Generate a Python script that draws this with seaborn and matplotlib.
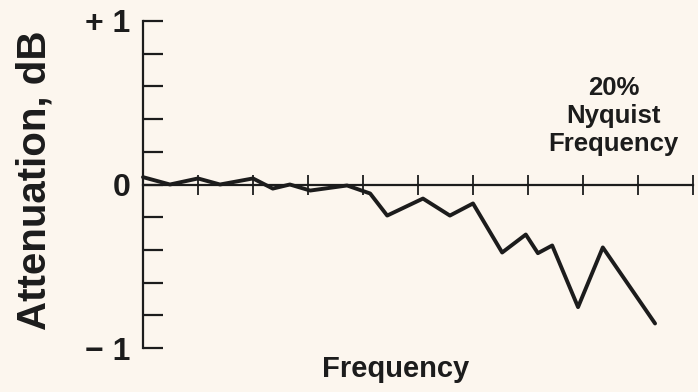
import matplotlib
matplotlib.use("Agg")
import matplotlib.pyplot as plt
import numpy as np
import seaborn as sns

# frequency in tick units (10 ticks up to 20% Nyquist), attenuation in dB
freq = [0.0, 0.49, 1.0, 1.4, 2.0, 2.36, 2.67, 3.04, 3.71, 4.13, 4.44, 5.09,
        5.58, 6.0, 6.53, 6.96, 7.18, 7.44, 7.91, 8.36, 9.31]
atten = [0.045, 0.0, 0.037, 0.0, 0.037, -0.025, 0.0, -0.037, -0.006, -0.055,
         -0.19, -0.086, -0.19, -0.116, -0.416, -0.306, -0.42, -0.373, -0.75,
         -0.385, -0.85]

xticks = [1, 2, 3, 4, 5, 6, 7, 8, 9, 10]
yticks = [-1.0, -0.8, -0.6, -0.4, -0.2, 0.0, 0.2, 0.4, 0.6, 0.8, 1.0]
ytick_labels = ['\u2212 1', '', '', '', '', '0', '', '', '', '', '+ 1']

bg = '#fcf6ee'
ink = '#1c1c1c'

sns.set_style("white")
plt.rcParams['font.family'] = ['Liberation Sans', 'DejaVu Sans']

fig = plt.figure(figsize=(6.98, 3.92), dpi=100, facecolor=bg)
ax = fig.add_axes([143 / 698, 1 - 348 / 392, 550 / 698, 327 / 392])
ax.set_facecolor(bg)

sns.lineplot(x=freq, y=atten, ax=ax, color=ink, linewidth=2.8, clip_on=False)

ax.set_xlim(0, 10)
ax.set_ylim(-1, 1)

for s in ['top', 'right']:
    ax.spines[s].set_visible(False)
ax.spines['bottom'].set_position(('data', 0))
for s in ['left', 'bottom']:
    ax.spines[s].set_color(ink)
    ax.spines[s].set_linewidth(1.6)

ax.set_xticks(xticks)
ax.set_xticklabels([])
ax.tick_params(axis='x', bottom=True, direction='inout', length=15, width=1.3,
               color=ink)

ax.set_yticks(yticks)
ax.set_yticklabels(ytick_labels, fontsize=23, fontweight='bold')
ax.tick_params(axis='y', left=True, direction='in', length=14.5, width=1.6,
               color=ink, labelcolor=ink, pad=9)

fig.text(35 / 698, 1 - 180 / 392, 'Attenuation, dB', rotation=90,
         ha='center', va='center', fontsize=29, fontweight='bold', color=ink)
fig.text(396 / 698, 1 - 369 / 392, 'Frequency', ha='center', va='center',
         fontsize=21, fontweight='bold', color=ink)
ax.text(8.56, 0.42, '20%\nNyquist\nFrequency', ha='center', va='center',
        fontsize=18.5, fontweight='bold', color=ink, linespacing=1.2)

fig.savefig('out.png', dpi=100, facecolor=bg)
